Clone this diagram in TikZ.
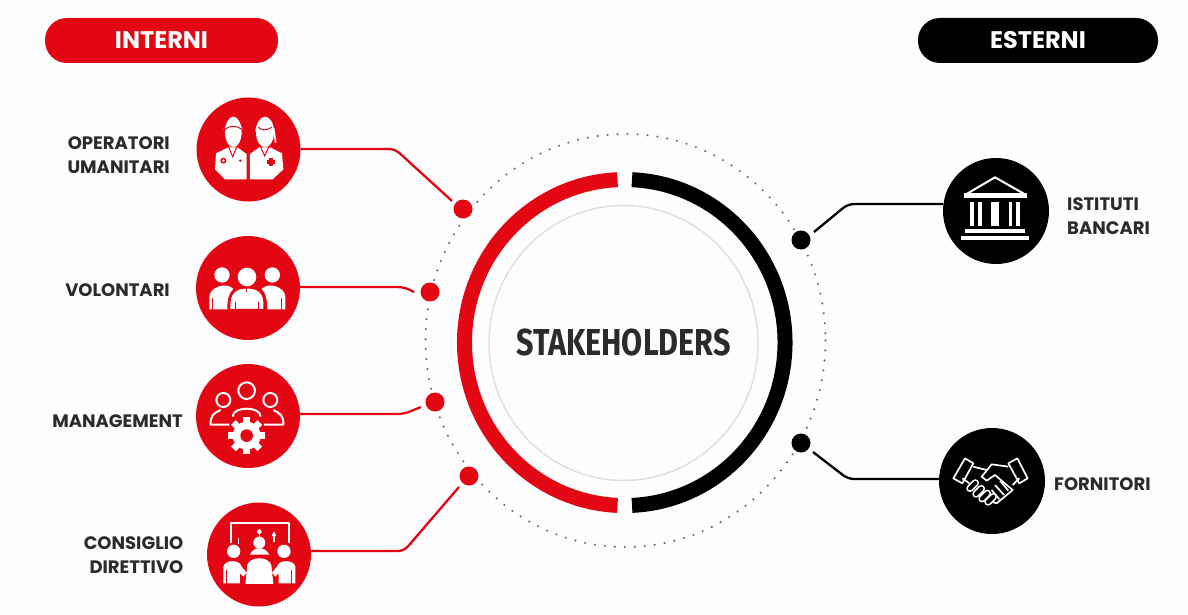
\documentclass[tikz,border=0pt]{standalone}
\usepackage{fontspec}
\setmainfont{Fira Sans}[UprightFont=* Bold,BoldFont=* Bold,FakeStretch=0.815]
\newfontfamily\lblf{Poppins}[UprightFont=* Bold,BoldFont=* Bold]
\definecolor{rd}{HTML}{E30613}
\definecolor{ink}{HTML}{2B2B2B}
\definecolor{bgc}{HTML}{FDFDFD}
\tikzset{
  disc/.style={circle,inner sep=0pt,minimum size=#1,outer sep=0pt},
  hub/.style={disc=104pt,fill=rd},
  hubk/.style={disc=106pt,fill=black},
  dotr/.style={disc=19pt,fill=rd},
  dotk/.style={disc=19pt,fill=black},
  link/.style={line width=2.3pt,rounded corners=6pt},
  lbl/.style={font=\lblf\fontsize{18}{24}\selectfont,text=ink,inner sep=0pt},
  pill/.style={rounded corners=22pt,inner sep=0pt,minimum height=45pt,font=\lblf\fontsize{24}{26}\selectfont,text=white},
  wl/.style={draw=white,line width=2pt,fill=none,line join=round},
  zoomed/.style={x=0.3333pt,y=-0.3333pt}
}
\begin{document}
\begin{tikzpicture}[x=1pt,y=-1pt]
\useasboundingbox (0,0) rectangle (1188,615);
\fill[bgc] (0,0) rectangle (1188,615);
% pills
\node[pill,fill=rd,minimum width=233pt] (pi) at (161.5,40.5) {INTERNI\hspace{5pt}};
\node[pill,fill=black,minimum width=240pt] (pe) at (1038,40.5) {ESTERNI};
% dotted ellipse
\draw[line width=2.3pt,dash pattern=on 0pt off 10pt,line cap=round,draw=black!60] (625.5,340.5) ellipse [x radius=200,y radius=206.5];
% central rings
\draw[line width=15pt,rd,line cap=butt] (617.5,179.7) arc [start angle=-92.5,delta angle=-175,x radius=160,y radius=163];
\draw[line width=15pt,black,line cap=butt] (632,179.7) arc [start angle=-87.5,delta angle=175,x radius=160,y radius=163];
\draw[line width=1.5pt,black!12] (623.5,343) ellipse [x radius=134.5,y radius=137.5];
\node[font=\fontsize{37.5}{39}\selectfont,text=ink,inner sep=0pt] (t) at (623.5,343) {STAKEHOLDERS};
% hubs
\node[hub] (h1) at (248.5,149.5) {};
\node[hub] (h2) at (248,288) {};
\node[hub] (h3) at (248,416) {};
\node[hub] (h4) at (259,554.5) {};
\node[hubk] (h5) at (996,211) {};
\node[hubk] (h6) at (992,481) {};
% dots
\node[dotr] (d1) at (463,209) {};
\node[dotr] (d2) at (430,292) {};
\node[dotr] (d3) at (435,402) {};
\node[dotr] (d4) at (469,476) {};
\node[dotk] (d5) at (801,240) {};
\node[dotk] (d6) at (801,443) {};
% connector ends
\coordinate (e1) at (452,201);
\coordinate (e2) at (414,292);
\coordinate (e3) at (421,407);
\coordinate (e4) at (459,487);
\coordinate (e5) at (814,232);
\coordinate (e6) at (813,452);
\draw[link,rd] (h1.east |- 0,149) -- (395,149) -- (e1);
\draw[link,rd] (h2.east |- 0,287) -- (404,287) -- (e2);
\draw[link,rd] (h3.east |- 0,414) -- (404,414) -- (e3);
\draw[link,rd] (h4.east |- 0,551) -- (404,551) -- (e4);
\draw[link,black] (h5.west |- 0,204) -- (848,204) -- (e5);
\draw[link,black] (h6.west |- 0,479) -- (848,479) -- (e6);
% labels
\node[lbl,align=right,anchor=east] (l1) at (170,155) {OPERATORI\\UMANITARI};
\node[lbl,anchor=east] (l2) at (170,290) {VOLONTARI};
\node[lbl,anchor=east] (l3) at (183,421) {MANAGEMENT};
\node[lbl,align=right,anchor=east] (l4) at (183.5,555) {CONSIGLIO\\DIRETTIVO};
\node[lbl,align=left,anchor=west] (l5) at (1067,216) {ISTITUTI\\BANCARI};
\node[lbl,anchor=west] (l6) at (1054,484) {FORNITORI};
% --- icon 1: two workers
\begin{scope}[shift={(190,90)},zoomed]
 \fill[white] (78,190) -- (115,172) -- (142,172) -- (170,192) -- (170,268) -- (105,268) -- (75,238) -- cycle;
 \fill[white] (180,192) -- (208,172) -- (240,172) -- (276,190) -- (280,238) -- (248,268) -- (180,268) -- cycle;
 \fill[white] (130,126) ellipse [x radius=25,y radius=46];
 \fill[white] (225,126) ellipse [x radius=27,y radius=46];
 \fill[white] (100,118) .. controls (110,100) and (150,100) .. (160,118) -- (150,104) -- (110,104) -- cycle;
 \fill[white] (196,125) .. controls (196,105) and (205,100) .. (212,100) -- (212,125) -- cycle;
 \draw[rd,line width=1pt] (105,118) .. controls (118,106) and (142,106) .. (155,118);
 \draw[rd,line width=1pt] (205,112) .. controls (215,122) and (232,122) .. (245,112);
 \draw[rd,line width=1pt] (116,172) -- (128,200) -- (140,172) (212,172) -- (224,198) -- (236,172);
 \draw[white,line width=1.6pt] (251,115) -- (257,158);
 \fill[rd] (100,212) circle (9); \fill[white] (100,212) circle (4);
 \fill[rd] (151,212) circle (4);
 \fill[rd] (237,203) rectangle (249,229); \fill[rd] (230,210) rectangle (256,222);
\end{scope}
% --- icon 2: three people
\begin{scope}[shift={(190,90)},zoomed]
 \fill[white] (96,555) circle (23); \fill[white] (247,555) circle (23); \fill[white] (171,561) circle (28);
 \fill[white] (58,658) -- (58,620) .. controls (60,590) and (110,575) .. (130,597) .. controls (115,610) and (112,630) .. (112,658) -- cycle;
 \fill[white] (286,658) -- (286,620) .. controls (284,590) and (235,575) .. (215,597) .. controls (228,610) and (232,630) .. (232,658) -- cycle;
 \fill[white,draw=rd,line width=1pt] (120,658) -- (120,640) .. controls (120,600) and (150,594) .. (171,594) .. controls (192,594) and (222,600) .. (222,640) -- (222,658) -- cycle;
 \draw[rd,line width=1pt] (68,660) -- (68,625) (276,660) -- (276,625) (136,660) -- (136,635) (207,660) -- (207,635) (171,594) -- (171,606);
\end{scope}
% --- icon 3: management
\begin{scope}[shift={(190,350)},zoomed]
 \draw[wl] (170,122) circle (25); \draw[wl] (100,150) circle (21); \draw[wl] (241,150) circle (21);
 \draw[wl] (128,200) .. controls (128,168) and (212,168) .. (212,200);
 \draw[wl] (118,224) -- (62,224) .. controls (60,198) and (72,188) .. (92,180);
 \draw[wl] (222,224) -- (280,224) .. controls (282,198) and (268,188) .. (250,180);
 \fill[white] (170,257) circle (42);
 \foreach \a in {0,45,...,315}{\fill[white,shift={(170,257)},rotate=\a] (-10,-56) rectangle (10,-30);}
 \fill[rd] (170,257) circle (19);
\end{scope}
% --- icon 4: board
\begin{scope}[shift={(190,350)},zoomed]
 \draw[wl] (122,578) -- (122,518) -- (296,518) -- (296,578);
 \fill[white] (131,604) circle (20); \fill[white] (282,604) circle (20); \fill[white] (208,578) circle (18);
 \fill[white] (180,614) .. controls (190,588) and (225,588) .. (238,614) -- cycle;
 \fill[white] (166,702) -- (172,645) .. controls (180,618) and (235,618) .. (244,645) -- (250,702) -- cycle;
 \fill[white] (100,700) -- (100,650) .. controls (105,628) and (150,628) .. (155,650) -- (170,668) -- (160,680) -- (150,670) -- (150,700) -- cycle;
 \fill[white] (316,700) -- (316,650) .. controls (311,628) and (266,628) .. (261,650) -- (246,668) -- (256,680) -- (266,670) -- (266,700) -- cycle;
 \draw[rd,line width=1pt] (110,702) -- (110,660) (306,702) -- (306,660);
 \draw[white,line width=1.5pt] (208,538) -- (208,562) (252,545) -- (252,575) (146,565) -- (146,582);
 \fill[white] (208,545) circle (7); \fill[white] (252,555) circle (6);
\end{scope}
% --- icon 5: bank
\begin{scope}[shift={(780,150)},zoomed]
 \draw[wl] (558,133) -- (645,82) -- (735,133) -- cycle;
 \fill[white] (552,130) rectangle (742,143);
 \fill[white] (570,155) rectangle (581,228); \fill[white] (595,155) rectangle (606,228);
 \fill[white] (634,155) rectangle (656,228);
 \fill[white] (686,155) rectangle (697,228); \fill[white] (709,155) rectangle (720,228);
 \fill[white] (556,238) rectangle (736,250);
 \fill[white] (544,259) rectangle (746,271);
\end{scope}
% --- icon 6: handshake
\begin{scope}[shift={(930,420)},zoomed,wl/.append style={line width=1.7pt}]
 \draw[wl] (70,175) -- (105,115) -- (130,130) -- (97,190) -- cycle;
 \draw[wl] (235,130) -- (262,115) -- (293,175) -- (268,190) -- cycle;
 \draw[wl] (235,140) -- (185,133) -- (155,170) -- (170,182) -- (195,165) -- (248,210) -- (200,250) -- (185,245);
 \draw[wl] (268,175) -- (248,195);
 \draw[wl] (130,140) -- (170,150);
 \draw[wl] (97,175) -- (118,190);
 \foreach \p/\q in {120/205,138/222,156/236,174/246}{
   \draw[white,line width=7.5pt,line cap=round] (\p,\q) -- ++(16,-16);
   \draw[black,line width=4pt,line cap=round] (\p,\q) -- ++(16,-16);
 }
 \draw[wl] (195,195) -- (222,225) (210,182) -- (235,212) (185,210) -- (208,238);
\end{scope}
\end{tikzpicture}
\end{document}
